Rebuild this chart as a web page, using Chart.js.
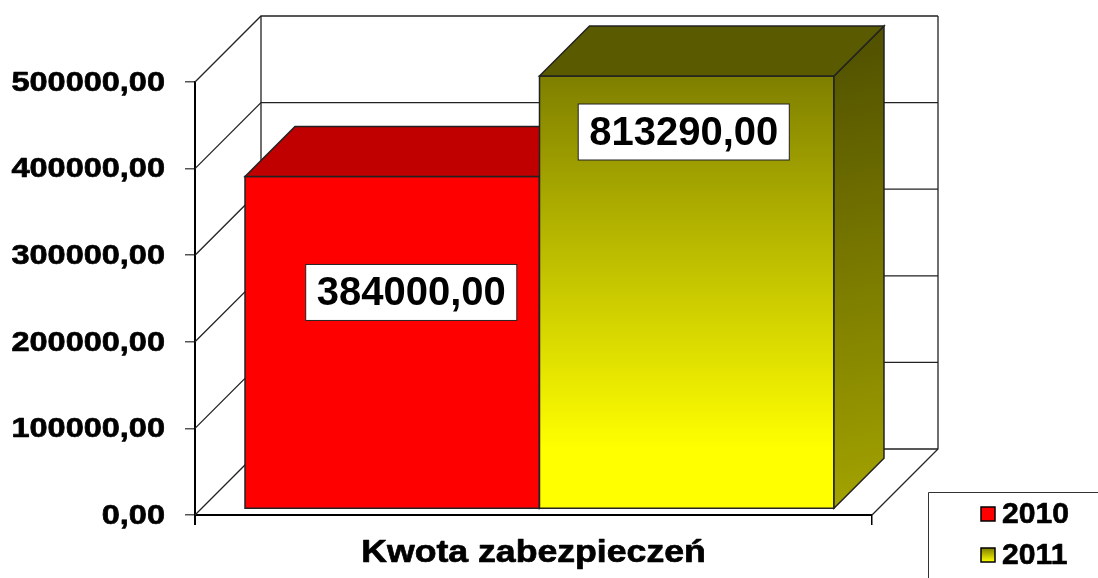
<!DOCTYPE html>
<html>
<head>
<meta charset="utf-8">
<script src="https://cdn.jsdelivr.net/npm/chart.js@4"></script>
<style>
html, body { margin: 0; padding: 0; background: #fff; }
#wrap { width: 1098px; height: 578px; position: relative; }
</style>
</head>
<body>
<div id="wrap"><canvas id="chart"></canvas></div>
<script>
// dane wykresu
const categories = ['Kwota zabezpieczeń'];
const years = ['2010', '2011'];
const values2010 = [384000];
const values2011 = [813290];
const yTicks = [0, 100000, 200000, 300000, 400000, 500000];

// kolory ścian słupków
const faces = [
    { front: ['#ff0000', '#ff0000'], top: '#c00000', side: ['#8a0000', '#b00000'] },
    { front: ['#7f7f00', '#ffff00'], top: '#5a5a00', side: ['#4e4e00', '#a6a600'] }
];

const DX = 66, DY = 66;      // głębokość ścian (rzut ukośny)
const BAR_IN = 6;            // przód słupka za przednią krawędzią
const BAR_DEPTH = 50;        // głębokość słupka
const labelShift = [[19, 116], [-3, 56]];
const FONT = '"Liberation Sans", Arial, sans-serif';

const fmt = v => Number(v).toFixed(2).replace('.', ',');

function poly(ctx, pts, fill, stroke) {
    ctx.beginPath();
    ctx.moveTo(pts[0][0], pts[0][1]);
    for (let i = 1; i < pts.length; i++) ctx.lineTo(pts[i][0], pts[i][1]);
    ctx.closePath();
    ctx.fillStyle = fill;
    ctx.fill();
    ctx.strokeStyle = stroke;
    ctx.lineWidth = 1.5;
    ctx.stroke();
}

// tekst rozciągnięty w poziomie (jak w oryginale), lekko pogrubiony
function stretchText(ctx, txt, x, y, align, sx, heavy) {
    ctx.save();
    ctx.translate(x, y);
    ctx.scale(sx, 1);
    ctx.textAlign = align;
    ctx.fillText(txt, 0, 0);
    if (heavy) {
        ctx.strokeStyle = ctx.fillStyle;
        ctx.lineWidth = heavy;
        ctx.lineJoin = 'round';
        ctx.strokeText(txt, 0, 0);
    }
    ctx.restore();
}

// ściana tylna, boczna i podłoga
const walls = {
    id: 'walls',
    beforeDatasetsDraw(chart) {
        const { ctx, chartArea: a, scales: { y } } = chart;
        ctx.save();
        ctx.strokeStyle = '#222';
        ctx.lineWidth = 1.3;
        yTicks.forEach(v => {
            const py = y.getPixelForValue(v);
            ctx.beginPath();
            ctx.moveTo(a.left, py);
            ctx.lineTo(a.left + DX, py - DY);
            ctx.lineTo(a.right + DX, py - DY);
            ctx.stroke();
        });
        const top = y.getPixelForValue(yTicks[yTicks.length - 1]);
        ctx.beginPath();
        ctx.moveTo(a.left + DX, top - DY);
        ctx.lineTo(a.left + DX, a.bottom - DY);
        ctx.moveTo(a.right + DX, top - DY);
        ctx.lineTo(a.right + DX, a.bottom - DY);
        ctx.lineTo(a.right, a.bottom);
        ctx.stroke();
        // przedłużenie osi Y w dół
        ctx.strokeStyle = '#000';
        ctx.lineWidth = 2;
        ctx.beginPath();
        ctx.moveTo(a.left, a.bottom);
        ctx.lineTo(a.left, a.bottom + 10);
        ctx.stroke();
        ctx.restore();
    }
};

// słupki 3D i etykiety danych
const bars3d = {
    id: 'bars3d',
    afterDatasetsDraw(chart) {
        const { ctx, scales: { y } } = chart;
        const top = y.getPixelForValue(y.max);
        ctx.save();
        chart.data.datasets.forEach((ds, i) => {
            const el = chart.getDatasetMeta(i).data[0];
            const f = faces[i];
            const x0 = el.x - el.width / 2 + BAR_IN, x1 = el.x + el.width / 2 + BAR_IN;
            const yt = Math.max(el.y, top) - BAR_IN, yb = el.base - BAR_IN;
            const d = BAR_DEPTH;

            let g = ctx.createLinearGradient(0, yt, 0, yb);
            g.addColorStop(0, f.front[0]);
            g.addColorStop(0.86, f.front[1]);
            g.addColorStop(1, f.front[1]);
            poly(ctx, [[x0, yt], [x1, yt], [x1, yb], [x0, yb]], g, '#222');

            g = ctx.createLinearGradient(x1, yt - d, x1 + d * 2, yb);
            g.addColorStop(0, f.side[0]);
            g.addColorStop(1, f.side[1]);
            poly(ctx, [[x1, yt], [x1 + d, yt - d], [x1 + d, yb - d], [x1, yb]], g, '#222');

            poly(ctx, [[x0, yt], [x0 + d, yt - d], [x1 + d, yt - d], [x1, yt]], f.top, '#222');
        });

        ctx.font = 'bold 40px ' + FONT;
        ctx.textAlign = 'center';
        ctx.textBaseline = 'middle';
        chart.data.datasets.forEach((ds, i) => {
            const el = chart.getDatasetMeta(i).data[0];
            const yt = Math.max(el.y, top) - BAR_IN;
            const cx = el.x + BAR_IN + labelShift[i][0];
            const cy = yt + labelShift[i][1];
            const txt = fmt(ds.data[0]);
            const w = ctx.measureText(txt).width + 22, h = 56;
            ctx.fillStyle = '#fff';
            ctx.fillRect(cx - w / 2, cy - h / 2, w, h);
            ctx.strokeStyle = '#222';
            ctx.lineWidth = 1;
            ctx.strokeRect(cx - w / 2, cy - h / 2, w, h);
            ctx.fillStyle = '#000';
            ctx.fillText(txt, cx, cy + 2);
        });
        ctx.restore();
    }
};

// opisy osi, rysowane z pozycji skal
const axisText = {
    id: 'axisText',
    afterDraw(chart) {
        const { ctx, scales: { x, y } } = chart;
        ctx.save();
        ctx.fillStyle = '#000';
        ctx.textBaseline = 'middle';
        ctx.font = 'bold 28px ' + FONT;
        y.ticks.forEach(t => {
            stretchText(ctx, fmt(t.value), y.right - 30, y.getPixelForValue(t.value) + 1, 'right', 1.16, 0.7);
        });
        ctx.textBaseline = 'alphabetic';
        ctx.font = 'bold 31px ' + FONT;
        categories.forEach((c, i) => {
            stretchText(ctx, c, x.getPixelForValue(i), x.top + 47, 'center', 1.15, 0.7);
        });
        ctx.restore();
    }
};

// legenda w ramce w prawym dolnym rogu
const legendBox = {
    id: 'legendBox',
    afterDraw(chart) {
        const ctx = chart.ctx;
        ctx.save();
        ctx.strokeStyle = '#333';
        ctx.lineWidth = 1;
        ctx.beginPath();
        ctx.moveTo(928.5, 578);
        ctx.lineTo(928.5, 492.5);
        ctx.lineTo(1098, 492.5);
        ctx.stroke();
        ctx.font = 'bold 29px ' + FONT;
        ctx.textBaseline = 'middle';
        years.forEach((yr, i) => {
            const cy = 514 + i * 41;
            let g = ctx.createLinearGradient(0, cy - 7, 0, cy + 7);
            g.addColorStop(0, faces[i].front[0]);
            g.addColorStop(1, faces[i].front[1]);
            ctx.fillStyle = g;
            ctx.fillRect(981, cy - 7, 14, 14);
            ctx.strokeStyle = '#000';
            ctx.lineWidth = 1.5;
            ctx.strokeRect(981, cy - 7, 14, 14);
            ctx.fillStyle = '#000';
            stretchText(ctx, yr, 1002, cy + 1, 'left', 1.04, 0.6);
        });
        ctx.restore();
    }
};

const ctx = document.getElementById('chart').getContext('2d');
const chart = new Chart(ctx, {
    type: 'bar',
    data: {
        labels: categories,
        datasets: [
            { label: years[0], data: values2010, backgroundColor: 'rgba(0,0,0,0)', borderWidth: 0 },
            { label: years[1], data: values2011, backgroundColor: 'rgba(0,0,0,0)', borderWidth: 0 }
        ]
    },
    options: {
        responsive: true,
        maintainAspectRatio: false,
        animation: false,
        layout: { padding: { top: 82, right: 226, bottom: 0, left: 0 } },
        plugins: { legend: { display: false }, tooltip: { enabled: false } },
        datasets: { bar: { categoryPercentage: 0.87, barPercentage: 1 } },
        scales: {
            x: {
                afterFit: s => { s.height = 63; },
                grid: { drawOnChartArea: false, tickLength: 10, color: '#000', lineWidth: 1.5 },
                border: { color: '#000', width: 2 },
                ticks: { display: false }
            },
            y: {
                min: 0,
                max: 500000,
                afterFit: s => { s.width = 195; },
                afterBuildTicks: s => { s.ticks = yTicks.map(v => ({ value: v })); },
                grid: { drawOnChartArea: false, tickLength: 10, color: '#555', lineWidth: 1.5 },
                border: { color: '#000', width: 2 },
                ticks: { display: false }
            }
        }
    },
    plugins: [walls, bars3d, axisText, legendBox]
});
</script>
</body>
</html>
